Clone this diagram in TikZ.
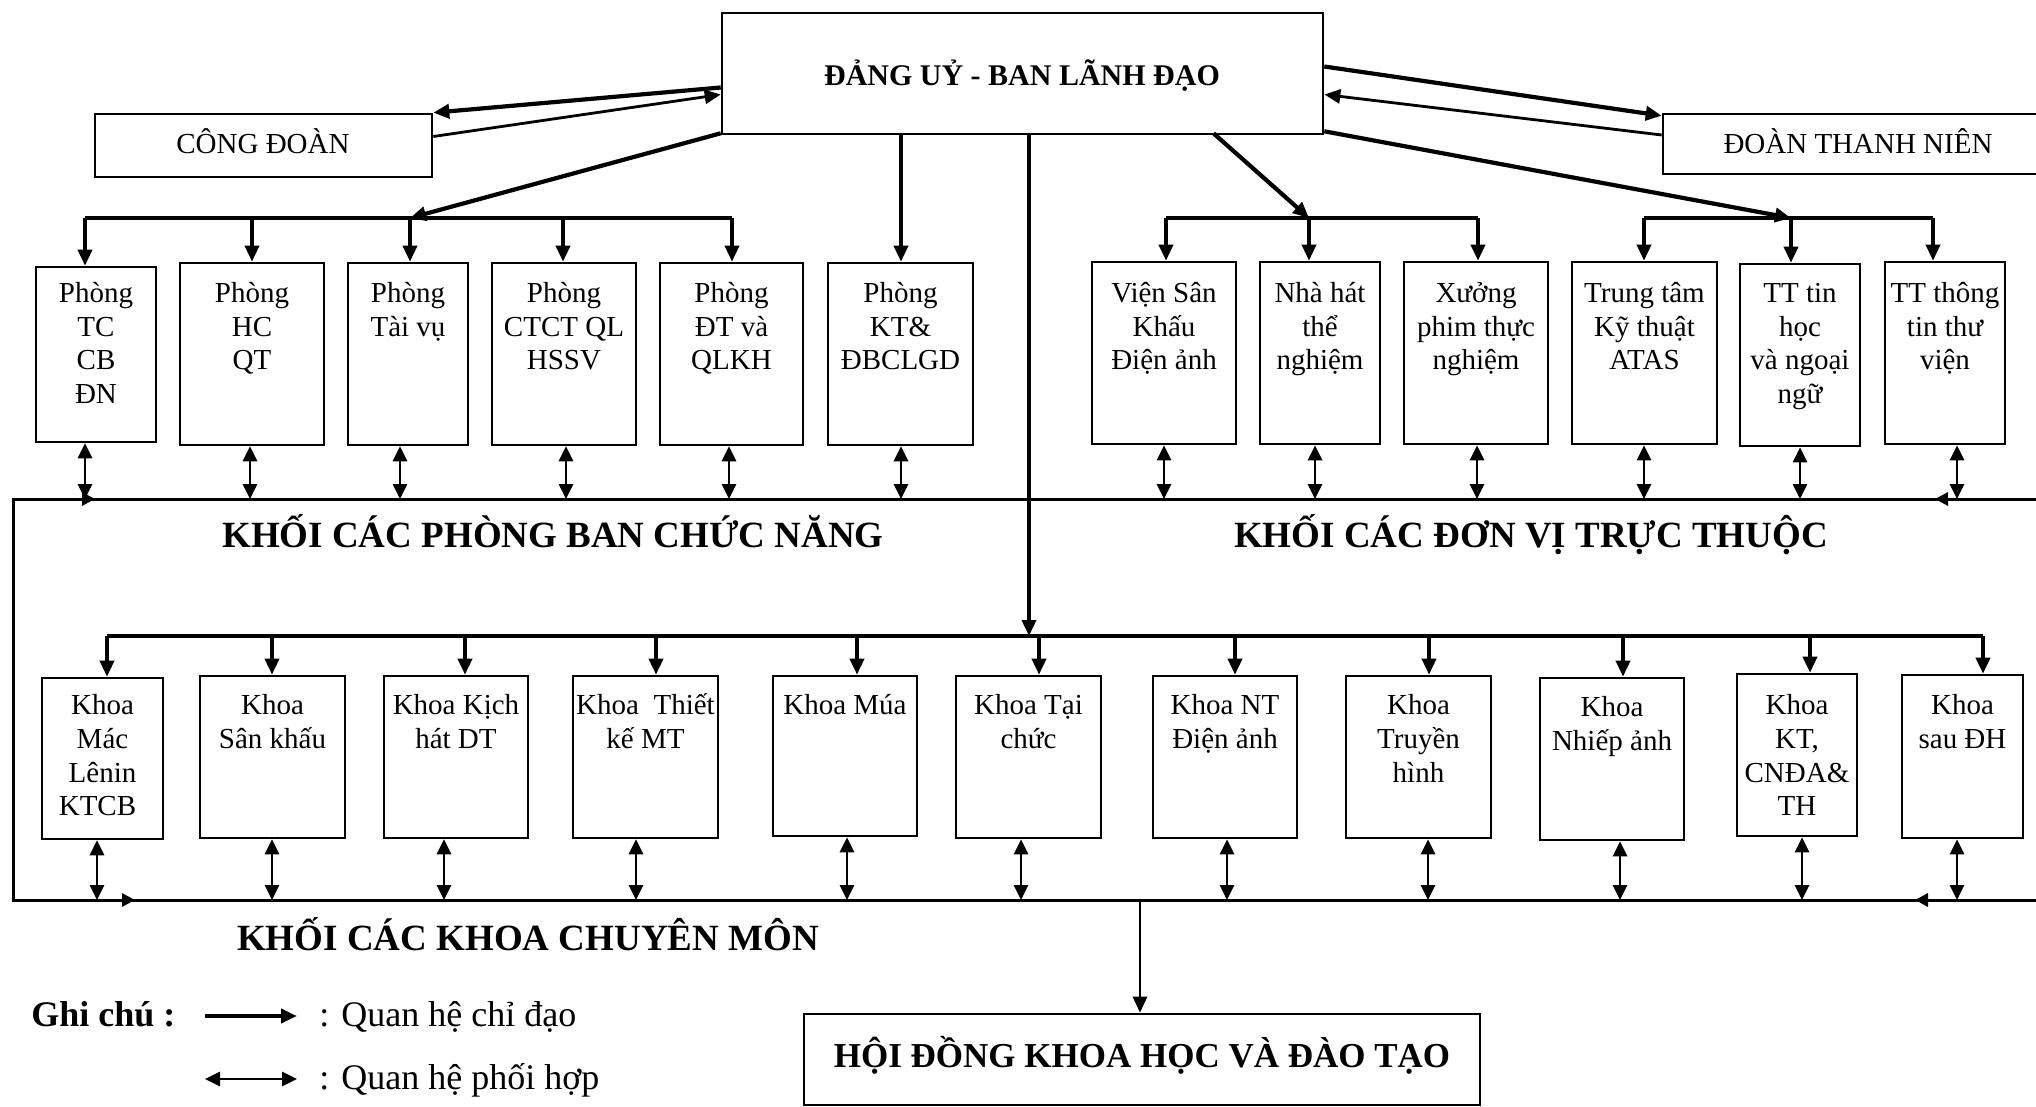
\documentclass[tikz,border=0pt]{standalone}
\usepackage{fontspec}
\setmainfont{Liberation Serif}
\usetikzlibrary{arrows.meta,calc,fit}
\newcommand\fs{\rule{0pt}{15pt}}
\tikzset{
  box/.style={draw,line width=1.3pt,inner sep=0pt},
  btxt/.style={anchor=north,align=center,inner sep=0pt,font=\fontsize{14.5}{16.9}\selectfont},
  ttl/.style={anchor=base,inner sep=0pt},
  tipA/.style={-{Triangle[length=8pt,width=7pt]}},
  heavy/.style={line width=2.1pt},
  thinline/.style={line width=1.4pt},
  dropline/.style={line width=1.8pt,-{Triangle[length=8pt,width=7pt]}},
  coop/.style={line width=1.4pt,{Triangle[length=7.5pt,width=7pt]}-{Triangle[length=7.5pt,width=7pt]}},
  busline/.style={line width=1.5pt},
  stip/.style={line width=1.5pt,-{Triangle[length=6.5pt,width=6.5pt]}},
}
\begin{document}
\begin{tikzpicture}[x=0.5pt,y=-0.5pt]
\useasboundingbox (0,0) rectangle (2036,1107);
\fill[white] (0,0) rectangle (2036,1107);

% ---------- top level ----------
\node[box,fit={(722,13)(1323,134)}] (main) {};
\node[ttl,font=\fontsize{15}{18}\selectfont\bfseries] (maint) at (1022,86) {ĐẢNG UỶ - BAN LÃNH ĐẠO};
\node[box,fit={(95,114)(432,177)}] (cd) {};
\node[ttl,font=\fontsize{14.5}{17}\selectfont] (cdt) at (263,154) {CÔNG ĐOÀN};
\node[box,fit={(1663,114)(2060,174)}] (dtn) {};
\node[ttl,font=\fontsize{14.5}{17}\selectfont] (dtnt) at (1858,154) {ĐOÀN THANH NIÊN};

\draw[heavy,tipA] ($(main.west)+(0,14)$) -- (cd.north east);
\draw[thinline,tipA] ($(cd.east)+(0,-9)$) -- ($(main.west)+(0,21)$);
\draw[heavy,tipA] ($(main.east)+(0,-7)$) -- ($(dtn.north west)+(0,3)$);
\draw[thinline,tipA] ($(dtn.west)+(0,-9)$) -- ($(main.east)+(0,21)$);

% ---------- upper boxes ----------
\node[box,fit={(36,267)(156,442)}] (p1) {};
\node[box,fit={(180,263)(324,445)}] (p2) {};
\node[box,fit={(348,263)(468,445)}] (p3) {};
\node[box,fit={(492,263)(636,445)}] (p4) {};
\node[box,fit={(660,263)(803,445)}] (p5) {};
\node[box,fit={(828,263)(973,445)}] (p6) {};
\node[box,fit={(1092,262)(1236,444)}] (v1) {};
\node[box,fit={(1260,262)(1380,444)}] (v2) {};
\node[box,fit={(1404,262)(1548,444)}] (v3) {};
\node[box,fit={(1572,262)(1717,444)}] (v4) {};
\node[box,fit={(1740,264)(1860,446)}] (v5) {};
\node[box,fit={(1885,262)(2005,444)}] (v6) {};

\coordinate (rowA) at (0,272);
\node[btxt] (p1t) at (p1.north |- rowA) {\fs Phòng\\TC\\CB\\ĐN};
\node[btxt] (p2t) at (p2.north |- rowA) {\fs Phòng\\HC\\QT};
\node[btxt] (p3t) at (p3.north |- rowA) {\fs Phòng\\Tài vụ};
\node[btxt] (p4t) at (p4.north |- rowA) {\fs Phòng\\CTCT QL\\HSSV};
\node[btxt] (p5t) at (p5.north |- rowA) {\fs Phòng\\ĐT và\\QLKH};
\node[btxt] (p6t) at (p6.north |- rowA) {\fs Phòng\\KT\&\\ĐBCLGD};
\node[btxt] (v1t) at (v1.north |- rowA) {\fs Viện Sân\\Khấu\\Điện ảnh};
\node[btxt] (v2t) at (v2.north |- rowA) {\fs Nhà hát\\thể\\nghiệm};
\node[btxt] (v3t) at (v3.north |- rowA) {\fs Xưởng\\phim thực\\nghiệm};
\node[btxt] (v4t) at (v4.north |- rowA) {\fs Trung tâm\\Kỹ thuật\\ATAS};
\node[btxt] (v5t) at (v5.north |- rowA) {\fs TT tin\\học\\và ngoại\\ngữ};
\node[btxt] (v6t) at (v6.north |- rowA) {\fs TT thông\\tin thư\\viện};

% bus A (phong)
\coordinate (a1) at (85,218);  \coordinate (a2) at (252,218);
\coordinate (a3) at (410,218); \coordinate (a4) at (563,218);
\coordinate (a5) at (732,218); \coordinate (a6) at (901,218);
\draw[heavy] (a1) -- (a5);
\draw[heavy,tipA] ($(main.south west)+(0,-2)$) -- (a3);
\foreach \c/\b in {a1/p1,a2/p2,a3/p3,a4/p4,a5/p5}
  \draw[dropline] (\c) -- (\c |- \b.north);
\draw[dropline] (main.south -| a6) -- (p6.north -| a6);

% bus B (vien)
\coordinate (b1) at (1166,218); \coordinate (b2) at (1309,218); \coordinate (b3) at (1478,218);
\draw[heavy] (b1) -- (b3);
\draw[heavy,tipA] ($(main.south)+(191,-2)$) -- (b2);
\foreach \c/\b in {b1/v1,b2/v2,b3/v3}
  \draw[dropline] (\c) -- (\c |- \b.north);

% bus C (trung tam)
\coordinate (c1) at (1644,218); \coordinate (c2) at (1791,218); \coordinate (c3) at (1933,218);
\draw[heavy] (c1) -- (c3);
\draw[heavy,tipA] ($(main.south east)+(0,-4)$) -- (c2);
\foreach \c/\b in {c1/v4,c2/v5,c3/v6}
  \draw[dropline] (\c) -- (\c |- \b.north);

% ---------- lower boxes ----------
\node[box,fit={(42,678)(163,839)}] (k1) {};
\node[box,fit={(200,676)(345,838)}] (k2) {};
\node[box,fit={(384,676)(528,838)}] (k3) {};
\node[box,fit={(573,676)(718,838)}] (k4) {};
\node[box,fit={(773,676)(917,836)}] (k5) {};
\node[box,fit={(956,676)(1101,838)}] (k6) {};
\node[box,fit={(1153,676)(1297,838)}] (k7) {};
\node[box,fit={(1346,676)(1491,838)}] (k8) {};
\node[box,fit={(1540,678)(1684,840)}] (k9) {};
\node[box,fit={(1737,674)(1857,836)}] (k10) {};
\node[box,fit={(1902,675)(2023,838)}] (k11) {};

\coordinate (rowB) at (0,684);
\node[btxt] (k1t) at (k1.north |- rowB) {\fs Khoa\\Mác\\Lênin\\KTCB\rule{5pt}{0pt}};
\node[btxt] (k2t) at (k2.north |- rowB) {\fs Khoa\\Sân khấu};
\node[btxt] (k3t) at (k3.north |- rowB) {\fs Khoa Kịch\\hát DT};
\node[btxt] (k4t) at (k4.north |- rowB) {\fs Khoa~~Thiết\\kế MT};
\node[btxt] (k5t) at (k5.north |- rowB) {\fs Khoa Múa};
\node[btxt] (k6t) at (k6.north |- rowB) {\fs Khoa Tại\\chức};
\node[btxt] (k7t) at (k7.north |- rowB) {\fs Khoa NT\\Điện ảnh};
\node[btxt] (k8t) at (k8.north |- rowB) {\fs Khoa\\Truyền\\hình};
\node[btxt] (k9t) at ([yshift=-1pt]k9.north |- rowB) {\fs Khoa\\Nhiếp ảnh};
\node[btxt] (k10t) at (k10.north |- rowB) {\fs Khoa\\KT,\\CNĐA\&\\TH};
\node[btxt] (k11t) at (k11.north |- rowB) {\fs Khoa\\sau ĐH};

% bus K
\coordinate (q1) at (107,636);  \coordinate (q2) at (272,636);
\coordinate (q3) at (465,636);  \coordinate (q4) at (656,636);
\coordinate (q5) at (857,636);  \coordinate (q6) at (1039,636);
\coordinate (q7) at (1235,636); \coordinate (q8) at (1429,636);
\coordinate (q9) at (1623,636); \coordinate (q10) at (1810,636);
\coordinate (q11) at (1983,636);
\draw[heavy] (q1) -- (q11);
\foreach \c/\b in {q1/k1,q2/k2,q3/k3,q4/k4,q5/k5,q6/k6,q7/k7,q8/k8,q9/k9,q10/k10,q11/k11}
  \draw[dropline] (\c) -- (\c |- \b.north);
\coordinate (kc) at (1029,636);
\draw[dropline] (main.south -| kc) -- (kc);

% ---------- frame buses ----------
\coordinate (LT) at (13,499);  \coordinate (LB) at (13,900);
\coordinate (RT) at (2060,499); \coordinate (RB) at (2060,900);
\draw[busline,line join=miter] (RT) -- (LT) -- (LB) -- (RB);
\coordinate (LTa) at (95,499);   \coordinate (LBa) at (135,900);
\coordinate (RTa) at (1935,499); \coordinate (RBa) at (1915,900);
\draw[stip] (LT) -- (LTa);
\draw[stip] (LB) -- (LBa);
\draw[stip] (RT) -- (RTa);
\draw[stip] (RB) -- (RBa);

% coordination arrows, upper
\foreach \n/\x/\b in {1/85/p1,2/250/p2,3/400/p3,4/566/p4,5/729/p5,6/901/p6,7/1164/v1,8/1315/v2,9/1477/v3,10/1644/v4,11/1800/v5,12/1957/v6}{
  \coordinate (u\n) at (\x,499);
  \draw[coop] (\b.south -| u\n) -- (u\n);
}
% coordination arrows, lower
\foreach \n/\x/\b in {1/97/k1,2/272/k2,3/444/k3,4/636/k4,5/847/k5,6/1021/k6,7/1227/k7,8/1428/k8,9/1620/k9,10/1802/k10,11/1957/k11}{
  \coordinate (w\n) at (\x,900);
  \draw[coop] (\b.south -| w\n) -- (w\n);
}

% ---------- block labels ----------
\node[ttl,font=\fontsize{18.5}{22}\selectfont\bfseries] (lab1) at (553,547) {KHỐI CÁC PHÒNG BAN CHỨC NĂNG};
\node[ttl,font=\fontsize{18.5}{22}\selectfont\bfseries] (lab2) at (1531,547) {KHỐI CÁC ĐƠN VỊ TRỰC THUỘC};
\node[ttl,font=\fontsize{18.5}{22}\selectfont\bfseries] (lab3) at (528,950) {KHỐI CÁC KHOA CHUYÊN MÔN};

% ---------- council ----------
\node[box,fit={(804,1014)(1480,1105)}] (hoi) {};
\node[ttl,font=\fontsize{17.5}{21}\selectfont\bfseries] (hoit) at (1142,1067) {HỘI ĐỒNG KHOA HỌC VÀ ĐÀO TẠO};
\coordinate (hd) at (1140,900);
\draw[thinline,tipA] (hd) -- (hd |- hoi.north);

% ---------- legend ----------
\node[anchor=base west,inner sep=0pt,font=\fontsize{18}{21}\selectfont\bfseries] (g1) at (31,1026) {Ghi chú :};
\coordinate (la1) at (205,1016); \coordinate (la2) at (297,1016);
\draw[heavy,tipA] (la1) -- (la2);
\node[anchor=base west,inner sep=0pt,font=\fontsize{18}{21}\selectfont] (g2) at (319,1026) {: Quan hệ chỉ đạo};
\coordinate (lb1) at (205,1079); \coordinate (lb2) at (297,1079);
\draw[coop] (lb1) -- (lb2);
\node[anchor=base west,inner sep=0pt,font=\fontsize{18}{21}\selectfont] (g3) at (319,1089) {: Quan hệ phối hợp};
\end{tikzpicture}
\end{document}
